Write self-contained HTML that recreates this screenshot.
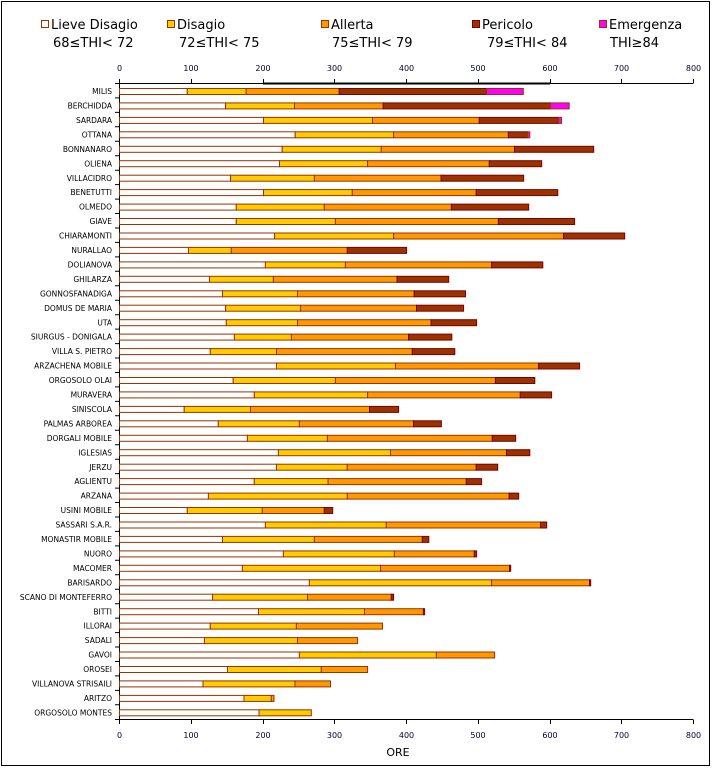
<!DOCTYPE html>
<html><head><meta charset="utf-8"><style>
html,body{margin:0;padding:0;background:#fff;}
svg{display:block;}
text{font-family:"DejaVu Sans","Liberation Sans",sans-serif;}
</style></head><body>
<svg width="712" height="768" viewBox="0 0 712 768" xmlns="http://www.w3.org/2000/svg">
<rect x="1.5" y="1.5" width="708" height="764" fill="#fff" stroke="#000" stroke-width="1"/>
<!-- legend -->
<g font-size="13" fill="#000">
<rect x="41.5" y="20.5" width="7" height="7" fill="#fff" stroke="#993300"/>
<text x="51" y="29">Lieve Disagio</text><text x="53" y="47">68≤THI&lt; 72</text>
<rect x="167.5" y="20.5" width="7" height="7" fill="#FFCC00" stroke="#993300"/>
<text x="177" y="29">Disagio</text><text x="179" y="47">72≤THI&lt; 75</text>
<rect x="321.5" y="20.5" width="7" height="7" fill="#FF9900" stroke="#993300"/>
<text x="331" y="29">Allerta</text><text x="332" y="47">75≤THI&lt; 79</text>
<rect x="472.5" y="20.5" width="7" height="7" fill="#993300" stroke="#800000"/>
<text x="482" y="29">Pericolo</text><text x="487" y="47">79≤THI&lt; 84</text>
<rect x="599.5" y="20.5" width="7" height="7" fill="#FF00FF" stroke="#993300"/>
<text x="609" y="29">Emergenza</text><text x="610" y="47">THI≥84</text>
</g>
<!-- top axis -->
<g font-size="8" fill="#000033" text-anchor="middle">
<text x="119.5" y="71">0</text><text x="191" y="71">100</text><text x="263" y="71">200</text><text x="334.5" y="71">300</text><text x="406.5" y="71">400</text><text x="478" y="71">500</text><text x="550" y="71">600</text><text x="621.5" y="71">700</text><text x="693.5" y="71">800</text>
<text x="119.5" y="738">0</text><text x="191" y="738">100</text><text x="263" y="738">200</text><text x="334.5" y="738">300</text><text x="406.5" y="738">400</text><text x="478" y="738">500</text><text x="550" y="738">600</text><text x="621.5" y="738">700</text><text x="693.5" y="738">800</text>
</g>
<g stroke="#000" stroke-width="1">
<line x1="119.5" y1="83.5" x2="693.5" y2="83.5"/>
<line x1="263" y1="83.5" x2="550" y2="83.5" stroke-width="2"/>
<line x1="119.5" y1="719.5" x2="693.5" y2="719.5"/>
<line x1="119.5" y1="83" x2="119.5" y2="720"/>
<path d="M119.5 79v4M191.5 79v4M263.5 79v4M334.5 79v4M406.5 79v4M478.5 79v4M550.5 79v4M621.5 79v4M693.5 79v4"/>
<path d="M119.5 720v4M191.5 720v4M263.5 720v4M334.5 720v4M406.5 720v4M478.5 720v4M550.5 720v4M621.5 720v4M693.5 720v4"/>
<path d="M115 83.5h4M115 97.9h4M115 112.4h4M115 126.8h4M115 141.3h4M115 155.7h4M115 170.2h4M115 184.6h4M115 199.1h4M115 213.5h4M115 228h4M115 242.4h4M115 256.9h4M115 271.3h4M115 285.8h4M115 300.2h4M115 314.7h4M115 329.1h4M115 343.6h4M115 358h4M115 372.5h4M115 386.9h4M115 401.4h4M115 415.8h4M115 430.3h4M115 444.7h4M115 459.2h4M115 473.6h4M115 488.1h4M115 502.5h4M115 517h4M115 531.4h4M115 545.9h4M115 560.3h4M115 574.8h4M115 589.2h4M115 603.7h4M115 618.1h4M115 632.6h4M115 647h4M115 661.5h4M115 675.9h4M115 690.4h4M115 704.8h4M115 719.5h4"/>
</g>
<text x="398" y="756" font-size="11" fill="#000" text-anchor="middle">ORE</text>
<!-- category labels -->
<g font-size="7.5" fill="#000" text-anchor="end">
<text x="112" y="94">MILIS</text>
<text x="112" y="108.5">BERCHIDDA</text>
<text x="112" y="123">SARDARA</text>
<text x="112" y="137.4">OTTANA</text>
<text x="112" y="151.9">BONNANARO</text>
<text x="112" y="166.3">OLIENA</text>
<text x="112" y="180.8">VILLACIDRO</text>
<text x="112" y="195.2">BENETUTTI</text>
<text x="112" y="209.7">OLMEDO</text>
<text x="112" y="224.1">GIAVE</text>
<text x="112" y="238.6">CHIARAMONTI</text>
<text x="112" y="253">NURALLAO</text>
<text x="112" y="267.5">DOLIANOVA</text>
<text x="112" y="281.9">GHILARZA</text>
<text x="112" y="296.4">GONNOSFANADIGA</text>
<text x="112" y="310.8">DOMUS DE MARIA</text>
<text x="112" y="325.3">UTA</text>
<text x="112" y="339.7">SIURGUS - DONIGALA</text>
<text x="112" y="354.2">VILLA S. PIETRO</text>
<text x="112" y="368.6">ARZACHENA MOBILE</text>
<text x="112" y="383.1">ORGOSOLO OLAI</text>
<text x="112" y="397.5">MURAVERA</text>
<text x="112" y="412">SINISCOLA</text>
<text x="112" y="426.4">PALMAS ARBOREA</text>
<text x="112" y="440.9">DORGALI MOBILE</text>
<text x="112" y="455.3">IGLESIAS</text>
<text x="112" y="469.8">JERZU</text>
<text x="112" y="484.2">AGLIENTU</text>
<text x="112" y="498.7">ARZANA</text>
<text x="112" y="513.1">USINI MOBILE</text>
<text x="112" y="527.6">SASSARI S.A.R.</text>
<text x="112" y="542">MONASTIR MOBILE</text>
<text x="112" y="556.5">NUORO</text>
<text x="112" y="570.9">MACOMER</text>
<text x="112" y="585.4">BARISARDO</text>
<text x="112" y="599.8">SCANO DI MONTEFERRO</text>
<text x="112" y="614.3">BITTI</text>
<text x="112" y="628.7">ILLORAI</text>
<text x="112" y="643.2">SADALI</text>
<text x="112" y="657.6">GAVOI</text>
<text x="112" y="672.1">OROSEI</text>
<text x="112" y="686.5">VILLANOVA STRISAILI</text>
<text x="112" y="701">ARITZO</text>
<text x="112" y="715.4">ORGOSOLO MONTES</text>
</g>
<!-- bars -->
<g stroke="#993300" stroke-width="1">
<!-- 1 MILIS y=88.5 -->
<rect x="119.5" y="88.5" width="67.8" height="6" fill="#fff"/><rect x="187.3" y="88.5" width="58.9" height="6" fill="#FFCC00"/><rect x="246.2" y="88.5" width="93" height="6" fill="#FF9900"/><rect x="339.2" y="88.5" width="147.4" height="6" fill="#993300" stroke="#800000"/><rect x="486.6" y="88.5" width="36.7" height="6" fill="#FF00FF"/>
<!-- 2 -->
<rect x="119.5" y="102.9" width="106.1" height="6" fill="#fff"/><rect x="225.6" y="102.9" width="68.9" height="6" fill="#FFCC00"/><rect x="294.5" y="102.9" width="88.7" height="6" fill="#FF9900"/><rect x="383.2" y="102.9" width="167.3" height="6" fill="#993300" stroke="#800000"/><rect x="550.5" y="102.9" width="18.7" height="6" fill="#FF00FF"/>
<!-- 3 -->
<rect x="119.5" y="117.4" width="144" height="6" fill="#fff"/><rect x="263.5" y="117.4" width="109" height="6" fill="#FFCC00"/><rect x="372.5" y="117.4" width="106.8" height="6" fill="#FF9900"/><rect x="479.3" y="117.4" width="79.2" height="6" fill="#993300" stroke="#800000"/><rect x="558.5" y="117.4" width="3.1" height="6" fill="#FF00FF"/>
<!-- 4 -->
<rect x="119.5" y="131.8" width="175.7" height="6" fill="#fff"/><rect x="295.2" y="131.8" width="98.4" height="6" fill="#FFCC00"/><rect x="393.6" y="131.8" width="114.8" height="6" fill="#FF9900"/><rect x="508.4" y="131.8" width="19.1" height="6" fill="#993300" stroke="#800000"/><rect x="527.5" y="131.8" width="2.3" height="6" fill="#FF00FF"/>
<!-- 5 -->
<rect x="119.5" y="146.3" width="162.7" height="6" fill="#fff"/><rect x="282.2" y="146.3" width="99.1" height="6" fill="#FFCC00"/><rect x="381.3" y="146.3" width="133.2" height="6" fill="#FF9900"/><rect x="514.5" y="146.3" width="79.2" height="6" fill="#993300" stroke="#800000"/>
<!-- 6 -->
<rect x="119.5" y="160.7" width="160" height="6" fill="#fff"/><rect x="279.5" y="160.7" width="88.1" height="6" fill="#FFCC00"/><rect x="367.6" y="160.7" width="121.7" height="6" fill="#FF9900"/><rect x="489.3" y="160.7" width="52.4" height="6" fill="#993300" stroke="#800000"/>
<!-- 7 -->
<rect x="119.5" y="175.2" width="111.1" height="6" fill="#fff"/><rect x="230.6" y="175.2" width="83.8" height="6" fill="#FFCC00"/><rect x="314.4" y="175.2" width="126.6" height="6" fill="#FF9900"/><rect x="441" y="175.2" width="82.7" height="6" fill="#993300" stroke="#800000"/>
<!-- 8 -->
<rect x="119.5" y="189.6" width="144" height="6" fill="#fff"/><rect x="263.5" y="189.6" width="88.8" height="6" fill="#FFCC00"/><rect x="352.3" y="189.6" width="123.9" height="6" fill="#FF9900"/><rect x="476.2" y="189.6" width="81.6" height="6" fill="#993300" stroke="#800000"/>
<!-- 9 -->
<rect x="119.5" y="204.1" width="116.8" height="6" fill="#fff"/><rect x="236.3" y="204.1" width="88" height="6" fill="#FFCC00"/><rect x="324.3" y="204.1" width="127.1" height="6" fill="#FF9900"/><rect x="451.4" y="204.1" width="77.3" height="6" fill="#993300" stroke="#800000"/>
<!-- 10 -->
<rect x="119.5" y="218.5" width="116.8" height="6" fill="#fff"/><rect x="236.3" y="218.5" width="99.1" height="6" fill="#FFCC00"/><rect x="335.4" y="218.5" width="163" height="6" fill="#FF9900"/><rect x="498.4" y="218.5" width="76.2" height="6" fill="#993300" stroke="#800000"/>
<!-- 11 -->
<rect x="119.5" y="233" width="155.1" height="6" fill="#fff"/><rect x="274.6" y="233" width="119" height="6" fill="#FFCC00"/><rect x="393.6" y="233" width="169.9" height="6" fill="#FF9900"/><rect x="563.5" y="233" width="61.2" height="6" fill="#993300" stroke="#800000"/>
<!-- 12 -->
<rect x="119.5" y="247.4" width="69" height="6" fill="#fff"/><rect x="188.5" y="247.4" width="42.8" height="6" fill="#FFCC00"/><rect x="231.3" y="247.4" width="116" height="6" fill="#FF9900"/><rect x="347.3" y="247.4" width="59.3" height="6" fill="#993300" stroke="#800000"/>
<!-- 13 -->
<rect x="119.5" y="261.9" width="145.9" height="6" fill="#fff"/><rect x="265.4" y="261.9" width="80" height="6" fill="#FFCC00"/><rect x="345.4" y="261.9" width="146.2" height="6" fill="#FF9900"/><rect x="491.6" y="261.9" width="51.2" height="6" fill="#993300" stroke="#800000"/>
<!-- 14 -->
<rect x="119.5" y="276.3" width="90" height="6" fill="#fff"/><rect x="209.5" y="276.3" width="63.9" height="6" fill="#FFCC00"/><rect x="273.4" y="276.3" width="123.6" height="6" fill="#FF9900"/><rect x="397" y="276.3" width="51.7" height="6" fill="#993300" stroke="#800000"/>
<!-- 15 -->
<rect x="119.5" y="290.8" width="103" height="6" fill="#fff"/><rect x="222.5" y="290.8" width="75" height="6" fill="#FFCC00"/><rect x="297.5" y="290.8" width="116.7" height="6" fill="#FF9900"/><rect x="414.2" y="290.8" width="51.3" height="6" fill="#993300" stroke="#800000"/>
<!-- 16 -->
<rect x="119.5" y="305.2" width="106.1" height="6" fill="#fff"/><rect x="225.6" y="305.2" width="75" height="6" fill="#FFCC00"/><rect x="300.6" y="305.2" width="115.9" height="6" fill="#FF9900"/><rect x="416.5" y="305.2" width="47.1" height="6" fill="#993300" stroke="#800000"/>
<!-- 17 -->
<rect x="119.5" y="319.7" width="106.8" height="6" fill="#fff"/><rect x="226.3" y="319.7" width="71.2" height="6" fill="#FFCC00"/><rect x="297.5" y="319.7" width="133.6" height="6" fill="#FF9900"/><rect x="431.1" y="319.7" width="45.5" height="6" fill="#993300" stroke="#800000"/>
<!-- 18 -->
<rect x="119.5" y="334.1" width="114.9" height="6" fill="#fff"/><rect x="234.4" y="334.1" width="57" height="6" fill="#FFCC00"/><rect x="291.4" y="334.1" width="117.1" height="6" fill="#FF9900"/><rect x="408.5" y="334.1" width="43.3" height="6" fill="#993300" stroke="#800000"/>
<!-- 19 -->
<rect x="119.5" y="348.6" width="90.8" height="6" fill="#fff"/><rect x="210.3" y="348.6" width="66.2" height="6" fill="#FFCC00"/><rect x="276.5" y="348.6" width="135.8" height="6" fill="#FF9900"/><rect x="412.3" y="348.6" width="42.5" height="6" fill="#993300" stroke="#800000"/>
<!-- 20 -->
<rect x="119.5" y="363" width="157" height="6" fill="#fff"/><rect x="276.5" y="363" width="119" height="6" fill="#FFCC00"/><rect x="395.5" y="363" width="143.1" height="6" fill="#FF9900"/><rect x="538.6" y="363" width="41" height="6" fill="#993300" stroke="#800000"/>
<!-- 21 -->
<rect x="119.5" y="377.5" width="113.7" height="6" fill="#fff"/><rect x="233.2" y="377.5" width="102.2" height="6" fill="#FFCC00"/><rect x="335.4" y="377.5" width="160" height="6" fill="#FF9900"/><rect x="495.4" y="377.5" width="39.4" height="6" fill="#993300" stroke="#800000"/>
<!-- 22 -->
<rect x="119.5" y="391.9" width="134.8" height="6" fill="#fff"/><rect x="254.3" y="391.9" width="113.3" height="6" fill="#FFCC00"/><rect x="367.6" y="391.9" width="152.7" height="6" fill="#FF9900"/><rect x="520.3" y="391.9" width="31.3" height="6" fill="#993300" stroke="#800000"/>
<!-- 23 -->
<rect x="119.5" y="406.4" width="64.7" height="6" fill="#fff"/><rect x="184.2" y="406.4" width="66.3" height="6" fill="#FFCC00"/><rect x="250.5" y="406.4" width="119" height="6" fill="#FF9900"/><rect x="369.5" y="406.4" width="29.1" height="6" fill="#993300" stroke="#800000"/>
<!-- 24 -->
<rect x="119.5" y="420.8" width="98.8" height="6" fill="#fff"/><rect x="218.3" y="420.8" width="81.1" height="6" fill="#FFCC00"/><rect x="299.4" y="420.8" width="114.1" height="6" fill="#FF9900"/><rect x="413.5" y="420.8" width="27.9" height="6" fill="#993300" stroke="#800000"/>
<!-- 25 -->
<rect x="119.5" y="435.3" width="127.9" height="6" fill="#fff"/><rect x="247.4" y="435.3" width="80" height="6" fill="#FFCC00"/><rect x="327.4" y="435.3" width="164.9" height="6" fill="#FF9900"/><rect x="492.3" y="435.3" width="23.4" height="6" fill="#993300" stroke="#800000"/>
<!-- 26 -->
<rect x="119.5" y="449.7" width="158.9" height="6" fill="#fff"/><rect x="278.4" y="449.7" width="112.1" height="6" fill="#FFCC00"/><rect x="390.5" y="449.7" width="116" height="6" fill="#FF9900"/><rect x="506.5" y="449.7" width="23.3" height="6" fill="#993300" stroke="#800000"/>
<!-- 27 -->
<rect x="119.5" y="464.2" width="157" height="6" fill="#fff"/><rect x="276.5" y="464.2" width="70.8" height="6" fill="#FFCC00"/><rect x="347.3" y="464.2" width="128.9" height="6" fill="#FF9900"/><rect x="476.2" y="464.2" width="21.5" height="6" fill="#993300" stroke="#800000"/>
<!-- 28 -->
<rect x="119.5" y="478.6" width="134.8" height="6" fill="#fff"/><rect x="254.3" y="478.6" width="73.8" height="6" fill="#FFCC00"/><rect x="328.1" y="478.6" width="138.2" height="6" fill="#FF9900"/><rect x="466.3" y="478.6" width="15.3" height="6" fill="#993300" stroke="#800000"/>
<!-- 29 -->
<rect x="119.5" y="493.1" width="88.9" height="6" fill="#fff"/><rect x="208.4" y="493.1" width="138.9" height="6" fill="#FFCC00"/><rect x="347.3" y="493.1" width="161.9" height="6" fill="#FF9900"/><rect x="509.2" y="493.1" width="9.5" height="6" fill="#993300" stroke="#800000"/>
<!-- 30 -->
<rect x="119.5" y="507.5" width="67.8" height="6" fill="#fff"/><rect x="187.3" y="507.5" width="75" height="6" fill="#FFCC00"/><rect x="262.3" y="507.5" width="62" height="6" fill="#FF9900"/><rect x="324.3" y="507.5" width="8.4" height="6" fill="#993300" stroke="#800000"/>
<!-- 31 -->
<rect x="119.5" y="522" width="145.9" height="6" fill="#fff"/><rect x="265.4" y="522" width="120.9" height="6" fill="#FFCC00"/><rect x="386.3" y="522" width="154.2" height="6" fill="#FF9900"/><rect x="540.5" y="522" width="6.2" height="6" fill="#993300" stroke="#800000"/>
<!-- 32 -->
<rect x="119.5" y="536.4" width="103" height="6" fill="#fff"/><rect x="222.5" y="536.4" width="91.9" height="6" fill="#FFCC00"/><rect x="314.4" y="536.4" width="107.9" height="6" fill="#FF9900"/><rect x="422.3" y="536.4" width="6.5" height="6" fill="#993300" stroke="#800000"/>
<!-- 33 -->
<rect x="119.5" y="550.9" width="163.9" height="6" fill="#fff"/><rect x="283.4" y="550.9" width="111" height="6" fill="#FFCC00"/><rect x="394.4" y="550.9" width="79.9" height="6" fill="#FF9900"/><rect x="474.3" y="550.9" width="2.3" height="6" fill="#993300" stroke="#800000"/>
<!-- 34 -->
<rect x="119.5" y="565.3" width="122.9" height="6" fill="#fff"/><rect x="242.4" y="565.3" width="138.2" height="6" fill="#FFCC00"/><rect x="380.6" y="565.3" width="128.9" height="6" fill="#FF9900"/><rect x="509.5" y="565.3" width="1.2" height="6" fill="#993300" stroke="#800000"/>
<!-- 35 -->
<rect x="119.5" y="579.8" width="189.9" height="6" fill="#fff"/><rect x="309.4" y="579.8" width="182.2" height="6" fill="#FFCC00"/><rect x="491.6" y="579.8" width="97.9" height="6" fill="#FF9900"/><rect x="589.5" y="579.8" width="1.2" height="6" fill="#993300" stroke="#800000"/>
<!-- 36 -->
<rect x="119.5" y="594.2" width="93.1" height="6" fill="#fff"/><rect x="212.6" y="594.2" width="94.9" height="6" fill="#FFCC00"/><rect x="307.5" y="594.2" width="83.8" height="6" fill="#FF9900"/><rect x="391.3" y="594.2" width="2.3" height="6" fill="#993300" stroke="#800000"/>
<!-- 37 -->
<rect x="119.5" y="608.7" width="139" height="6" fill="#fff"/><rect x="258.5" y="608.7" width="106" height="6" fill="#FFCC00"/><rect x="364.5" y="608.7" width="58.9" height="6" fill="#FF9900"/><rect x="423.4" y="608.7" width="1.2" height="6" fill="#993300" stroke="#800000"/>
<!-- 38 -->
<rect x="119.5" y="623.1" width="90.8" height="6" fill="#fff"/><rect x="210.3" y="623.1" width="86.1" height="6" fill="#FFCC00"/><rect x="296.4" y="623.1" width="86.1" height="6" fill="#FF9900"/>
<!-- 39 -->
<rect x="119.5" y="637.6" width="85" height="6" fill="#fff"/><rect x="204.5" y="637.6" width="93" height="6" fill="#FFCC00"/><rect x="297.5" y="637.6" width="60.1" height="6" fill="#FF9900"/>
<!-- 40 -->
<rect x="119.5" y="652" width="179.9" height="6" fill="#fff"/><rect x="299.4" y="652" width="137" height="6" fill="#FFCC00"/><rect x="436.4" y="652" width="58.2" height="6" fill="#FF9900"/>
<!-- 41 -->
<rect x="119.5" y="666.5" width="108" height="6" fill="#fff"/><rect x="227.5" y="666.5" width="93.8" height="6" fill="#FFCC00"/><rect x="321.3" y="666.5" width="46.3" height="6" fill="#FF9900"/>
<!-- 42 -->
<rect x="119.5" y="680.9" width="83.5" height="6" fill="#fff"/><rect x="203" y="680.9" width="92" height="6" fill="#FFCC00"/><rect x="295" y="680.9" width="35.5" height="6" fill="#FF9900"/>
<!-- 43 -->
<rect x="119.5" y="695.4" width="124.5" height="6" fill="#fff"/><rect x="244" y="695.4" width="27.3" height="6" fill="#FFCC00"/><rect x="271.3" y="695.4" width="2.7" height="6" fill="#FF9900"/>
<!-- 44 -->
<rect x="119.5" y="709.8" width="139.5" height="6" fill="#fff"/><rect x="259" y="709.8" width="52.3" height="6" fill="#FFCC00"/>
</g>
</svg>
</body></html>
